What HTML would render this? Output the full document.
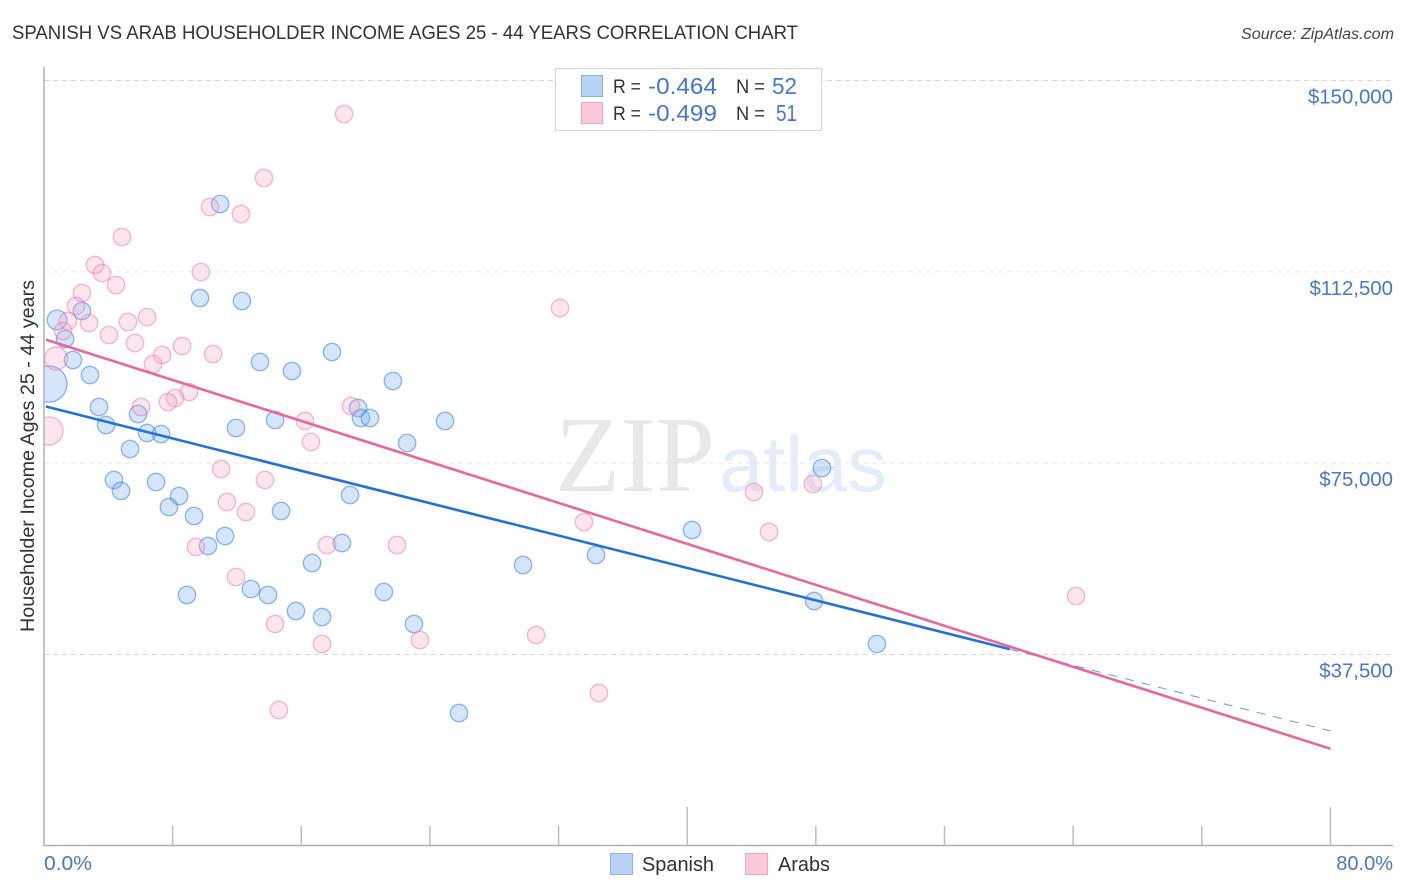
<!DOCTYPE html>
<html lang="en">
<head>
<meta charset="utf-8">
<title>Spanish vs Arab Householder Income Correlation Chart</title>
<style>
html,body{margin:0;padding:0;background:#fff;width:1406px;height:892px;overflow:hidden}
svg{display:block;font-family:"Liberation Sans",sans-serif}
</style>
</head>
<body>
<svg id="chart" width="1406" height="892" viewBox="0 0 1406 892" xmlns="http://www.w3.org/2000/svg">
  <defs><clipPath id="plot-clip"><rect x="44" y="60" width="1350" height="786"/></clipPath></defs>
  <rect width="1406" height="892" fill="#fff"/>
  <text x="12" y="39" font-size="19" fill="#333" textLength="786" lengthAdjust="spacingAndGlyphs">SPANISH VS ARAB HOUSEHOLDER INCOME AGES 25 - 44 YEARS CORRELATION CHART</text>
  <text x="1241" y="39" font-size="15.5" font-style="italic" fill="#444" textLength="153" lengthAdjust="spacingAndGlyphs">Source: ZipAtlas.com</text>

  <text x="555" y="491" font-family="'Liberation Serif',serif" font-size="108" fill="#e8e8e8" textLength="160" lengthAdjust="spacingAndGlyphs">ZIP</text>
  <text x="719" y="491" font-size="78" fill="#e2ecfb" textLength="168" lengthAdjust="spacingAndGlyphs">atlas</text>

  <g id="grid"></g>
  <g id="points" clip-path="url(#plot-clip)"></g>
  <g id="trends"></g>
  <g id="axes"></g>

  <text transform="translate(34,632) rotate(-90)" font-size="19" fill="#333" textLength="352" lengthAdjust="spacingAndGlyphs">Householder Income Ages 25 - 44 years</text>
  <text x="44" y="870" font-size="20" fill="#4577d8" textLength="48" lengthAdjust="spacingAndGlyphs">0.0%</text>
  <text x="1393" y="870" font-size="20" fill="#4577d8" text-anchor="end">80.0%</text>

  <g>
    <rect x="555.5" y="68.5" width="266" height="62" fill="#fff" stroke="#d6d6d6" stroke-width="1"/>
    <rect x="581.5" y="75.5" width="21" height="21" fill="#b9d3f6" stroke="#86b1ec"/>
    <rect x="581.5" y="102.5" width="21" height="21" fill="#fdc8da" stroke="#f3a3c0"/>
    <text x="613" y="93" font-size="19" fill="#333" textLength="28" lengthAdjust="spacingAndGlyphs">R =</text>
    <text x="648" y="94" font-size="23" fill="#4577d8" textLength="69" lengthAdjust="spacingAndGlyphs">-0.464</text>
    <text x="736" y="93" font-size="19" fill="#333" textLength="29" lengthAdjust="spacingAndGlyphs">N =</text>
    <text x="772" y="94" font-size="23" fill="#4577d8" textLength="25" lengthAdjust="spacingAndGlyphs">52</text>
    <text x="613" y="120" font-size="19" fill="#333" textLength="28" lengthAdjust="spacingAndGlyphs">R =</text>
    <text x="648" y="121" font-size="23" fill="#4577d8" textLength="69" lengthAdjust="spacingAndGlyphs">-0.499</text>
    <text x="736" y="120" font-size="19" fill="#333" textLength="29" lengthAdjust="spacingAndGlyphs">N =</text>
    <text x="776" y="121" font-size="23" fill="#4577d8" textLength="21" lengthAdjust="spacingAndGlyphs">51</text>
  </g>

  <g>
    <rect x="610.5" y="853.5" width="22" height="21" fill="#b9d3f6" stroke="#86b1ec"/>
    <text x="642" y="871" font-size="20" fill="#333" textLength="72" lengthAdjust="spacingAndGlyphs">Spanish</text>
    <rect x="745.5" y="853.5" width="22" height="21" fill="#fdc8da" stroke="#f3a3c0"/>
    <text x="778" y="871" font-size="20" fill="#333" textLength="52" lengthAdjust="spacingAndGlyphs">Arabs</text>
  </g>
</svg>
<script>
const yTickValues = [150000, 112500, 75000, 37500];
const yTickLabels = ["$150,000", "$112,500", "$75,000", "$37,500"];
const xTickValues = [0, 8, 16, 24, 32, 40, 48, 56, 64, 72, 80];
const xMajorTicks = [40, 80];

const spanishRate = [10.95,9.70,12.31,2.36,0.81,1.31,1.80,17.91,13.43,15.42,2.86,21.70,0.31,3.42,5.85,3.86,6.41,7.28,5.35,11.94,14.37,19.53,19.71,20.27,22.58,24.94,4.35,4.79,6.97,8.40,7.77,9.33,11.26,10.20,14.74,19.03,18.53,16.67,12.87,13.93,8.89,15.67,17.29,21.14,23.01,25.81,29.79,34.33,40.30,48.38,47.89,51.80];
const spanishIncome = [125790,107370,106780,104820,103060,99330,95220,96790,94830,93060,92280,91100,90510,86010,84630,82480,80910,80710,77770,81890,83460,85810,83850,83850,78950,83260,71700,69540,71310,68560,66410,64640,60720,58760,65620,68760,59350,55430,50330,49160,49160,46020,44850,49750,43470,26030,55040,57000,61900,74050,47980,39550];
const spanishWeight = [1,1,1,1,1.3,1,1,1,1,1,1,1,4.3,1,1,1,1,1,1,1,1,1,1,1,1,1,1,1,1,1,1,1,1,1,1,1,1,1,1,1,1,1,1,1,1,1,1,1,1,1,1,1];

const arabsRate = [18.66,13.68,10.32,12.25,4.85,3.17,3.61,9.76,4.48,2.36,1.99,32.09,1.49,1.18,2.80,6.41,5.22,4.04,5.66,8.58,7.34,10.51,6.78,0.75,9.02,8.15,7.71,6.03,19.09,16.23,16.60,0.31,11.01,13.74,44.15,47.82,11.38,12.56,33.58,45.09,9.45,17.60,21.95,11.94,14.37,17.29,23.38,30.60,64.18,34.51,14.61];
const arabsIncome = [143430,130890,125210,123830,119330,113840,112270,112470,109920,108350,105800,105410,102860,100900,102470,103650,102670,100120,98550,97960,96200,96390,94430,95510,88950,87770,86990,86010,86200,83260,79150,81300,73850,71700,69350,70910,67390,65430,63470,61510,58570,58960,58960,52690,43470,39550,40340,41320,48960,29950,26620];
const arabsWeight = [1,1,1,1,1,1,1,1,1,1,1,1,1,1,1,1,1,1,1,1,1,1,1,1.75,1,1,1,1,1,1,1,2.6,1,1,1,1,1,1,1,1,1,1,1,1,1,1,1,1,1,1,1];

const spanishTrendX = [0.12, 60.05, 80];
const spanishTrendY = [86100, 38550, 22500];
const arabsTrendX = [0.12, 80];
const arabsTrendY = [99210, 19030];

const SVGNS = 'http://www.w3.org/2000/svg';
const xScale = v => 44 + v * 16.08;
const yScale = v => 80.5 + (150000 - v) / 196;
const radiusOf = w => 8.7 * Math.sqrt(w);

function make(tag, attrs, parent) {
  const el = document.createElementNS(SVGNS, tag);
  for (const k in attrs) el.setAttribute(k, attrs[k]);
  parent.appendChild(el);
  return el;
}

const grid = document.getElementById('grid');
const axes = document.getElementById('axes');
const points = document.getElementById('points');
const trends = document.getElementById('trends');

yTickValues.forEach((v, i) => {
  const line = make('line', {x1: 44, x2: 1393, y1: yScale(v), y2: yScale(v), stroke: i === 1 || i === 2 ? '#e6e6e6' : '#d8d8d8', 'stroke-width': 1, 'stroke-dasharray': '5 4'}, grid);
  
  
  const label = make('text', {x: 1393, y: yScale(v) + 23, 'font-size': 20.4, fill: '#4577d8', 'text-anchor': 'end'}, axes);
  label.textContent = yTickLabels[i];
  
  
});

const yAxis = make('line', {x1: 44, x2: 44, y1: 67, y2: 846, stroke: '#b0b0b0', 'stroke-width': 1.5}, axes);


const xAxis = make('line', {x1: 44, x2: 1393, y1: 845.5, y2: 845.5, stroke: '#b0b0b0', 'stroke-width': 1.5}, axes);



xTickValues.forEach(v => {
  if (v === 0) return;
  const top = xMajorTicks.includes(v) ? 807 : 826;
  const tick = make('line', {x1: xScale(v), x2: xScale(v), y1: top, y2: 845, stroke: '#bdbdbd', 'stroke-width': 1.5}, axes);
  
  
});

spanishRate.forEach((v, i) => {
  const c = make('circle', {cx: xScale(v), cy: yScale(spanishIncome[i]), r: radiusOf(spanishWeight[i]), fill: 'rgba(120,172,240,0.3)', stroke: 'rgba(60,130,225,0.55)', 'stroke-width': 1.4}, points);
  
  
});
arabsRate.forEach((v, i) => {
  const c = make('circle', {cx: xScale(v), cy: yScale(arabsIncome[i]), r: radiusOf(arabsWeight[i]), fill: 'rgba(248,160,190,0.27)', stroke: 'rgba(236,120,165,0.5)', 'stroke-width': 1.4}, points);
  
  
});

const spanishDash = make('line', {x1: xScale(spanishTrendX[1]), y1: yScale(spanishTrendY[1]), x2: xScale(spanishTrendX[2]), y2: yScale(spanishTrendY[2]), stroke: '#2272d9', 'stroke-width': 1, 'stroke-dasharray': '9 8', 'stroke-opacity': 0.7}, trends);


const spanishSolid = make('line', {x1: xScale(spanishTrendX[0]), y1: yScale(spanishTrendY[0]), x2: xScale(spanishTrendX[1]), y2: yScale(spanishTrendY[1]), stroke: '#2272d9', 'stroke-width': 2.6}, trends);


const arabsSolid = make('line', {x1: xScale(arabsTrendX[0]), y1: yScale(arabsTrendY[0]), x2: xScale(arabsTrendX[1]), y2: yScale(arabsTrendY[1]), stroke: '#e9689a', 'stroke-width': 2.6}, trends);


</script>
</body>
</html>
